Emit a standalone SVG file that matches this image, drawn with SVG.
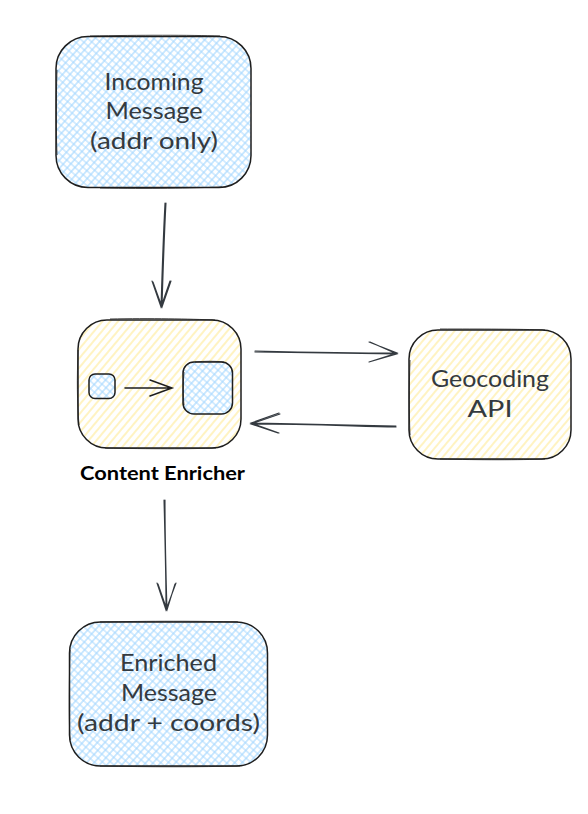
<svg xmlns="http://www.w3.org/2000/svg" width="588" height="814" viewBox="0 0 588 814">
<style>
.box{stroke:#1e1e1e;stroke-width:1.5}
.sk{fill:none;stroke:#1e1e1e;stroke-width:.8}
.blue{fill:url(#hb)}
.yel{fill:url(#hy)}
.t{font-family:"Lato","Noto Sans",sans-serif;font-size:23px;fill:#343a40;text-anchor:middle}
.lb{font-family:"Lato","Noto Sans",sans-serif;font-size:18px;font-weight:700;fill:#000;text-anchor:middle}
.c path{fill:none;stroke:#343a40;stroke-width:1.1;stroke-linecap:round}
</style>
<defs>
<pattern id="hb" width="5.500" height="5.500" patternUnits="userSpaceOnUse" patternTransform="rotate(42)">
<rect width="5.500" height="5.500" fill="#fff"/>
<path d="M0 2.750H5.500M2.750 0V5.500" stroke="#a5d8ff" stroke-width="1.1"/>
</pattern>
<pattern id="hy" width="6" height="6" patternUnits="userSpaceOnUse" patternTransform="rotate(40)">
<rect width="6" height="6" fill="#fff"/>
<path d="M3 0V6" stroke="#ffec99" stroke-width="1.2"/>
</pattern>
</defs>
<g id="connectors" class="c">
<path d="M165 203C163 240 162 275 161 307M166 203C164 240 163 275 162 307M152 281L161 307L170 281M153 282L162 307L171 281"/>
<path d="M255 351C300 352 350 353 397 353M255 352C300 353 350 353 397 354M369 342L397 353L369 362M370 342L397 354L369 362"/>
<path d="M396 426C350 425 300 424 251 423M396 427C350 426 300 424 251 424M279 413L251 423L279 433M280 414L251 424L278 433"/>
<path d="M164 500C165 540 166 575 166 610M165 500C165 540 166 575 167 610M157 583L166 610L176 583M158 584L167 610L175 584"/>
</g>
<g id="incoming">
<rect class="box blue" x="56" y="36.500" width="195" height="151" rx="32"/>
<path class="sk" d="M90 36C140 35 190 35 220 36M57 70C56 100 56 130 57 155M100 188C150 189 190 188 222 187"/>
<text class="t" x="154" y="90" textLength="99" lengthAdjust="spacingAndGlyphs">Incoming</text>
<text class="t" x="154" y="119" textLength="97" lengthAdjust="spacingAndGlyphs">Message</text>
<text class="t" x="154" y="149" textLength="128" lengthAdjust="spacingAndGlyphs">(addr only)</text>
</g>
<g id="enricher">
<rect class="box yel" x="78" y="320" width="163" height="128" rx="29"/>
<path class="sk" d="M110 319C150 318 190 319 215 320M78 350C77 380 77 400 79 425M105 448C150 449 190 449 216 448"/>
</g>
<g id="enricher-small">
<rect class="box blue" x="89" y="374" width="26" height="24.500" rx="6"/>
</g>
<g id="enricher-big">
<rect class="box blue" x="183" y="362" width="49.500" height="52" rx="11"/>
<path class="sk" d="M184 372C183 385 183 395 184 405M195 362C205 361 215 361 224 362"/>
</g>
<g id="enricher-arrow" class="c">
<path style="stroke:#1e1e1e;stroke-width:1.5" d="M125 388L172 388M150 380L172 388L150 396"/>
</g>
<g id="enricher-label">
<text class="lb" x="162.500" y="480" textLength="165" lengthAdjust="spacingAndGlyphs">Content Enricher</text>
</g>
<g id="geocoding">
<rect class="box yel" x="409" y="330" width="162" height="129" rx="29"/>
<path class="sk" d="M440 329C480 329 520 329 545 330M410 360C409 390 409 410 410 435M440 459C480 460 520 460 545 459"/>
<text class="t" x="490" y="387" textLength="118" lengthAdjust="spacingAndGlyphs">Geocoding</text>
<text class="t" x="490" y="417" textLength="45" lengthAdjust="spacingAndGlyphs">API</text>
</g>
<g id="enriched">
<rect class="box blue" x="69.500" y="622" width="198" height="144" rx="31"/>
<path class="sk" d="M100 622C150 621 200 621 238 622M70 650C69 690 69 720 70 740M100 766C150 767 200 767 240 766"/>
<text class="t" x="168.500" y="671" textLength="97" lengthAdjust="spacingAndGlyphs">Enriched</text>
<text class="t" x="169" y="701" textLength="96" lengthAdjust="spacingAndGlyphs">Message</text>
<text class="t" x="168.500" y="731" textLength="183" lengthAdjust="spacingAndGlyphs">(addr + coords)</text>
</g>
</svg>
